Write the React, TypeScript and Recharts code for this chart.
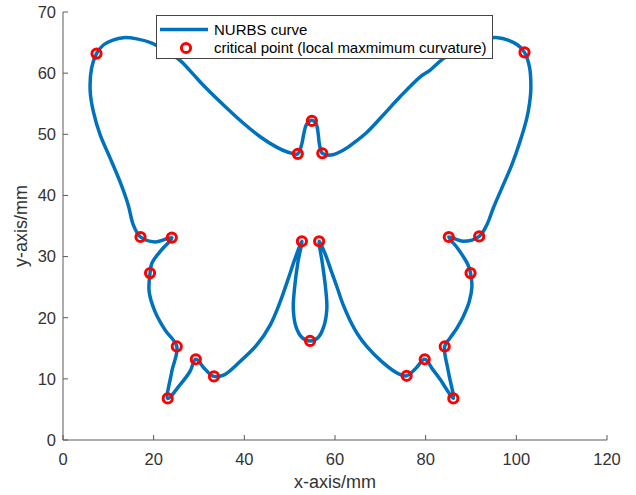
import React from "react"
import { ComposedChart, Line, Scatter, XAxis, YAxis, Legend, Label } from "recharts"

// butterfly outline (mm), traced clockwise from the top-left critical point
const upperLeftWing = [
    [7.4, 63.2], [8.9, 64.6], [11.0, 65.4], [13.3, 65.8], [16.3, 65.6], [19.6, 64.9], [22.6, 63.6],
    [25.8, 62.1], [28.5, 60.0], [31.5, 57.6], [36.1, 54.3], [39.8, 51.8], [43.5, 49.6], [47.1, 47.9],
    [49.5, 47.1], [51.8, 46.8],
]
const head = [
    [51.8, 46.8], [52.6, 48.2], [53.1, 50.0], [53.7, 51.6], [54.9, 52.3], [55.9, 51.6], [56.3, 50.0],
    [56.6, 48.2], [57.2, 46.9],
]
const upperRightWing = [
    [57.2, 46.9], [59.0, 46.6], [61.8, 47.4], [64.5, 48.8], [67.0, 50.3], [70.7, 53.2], [74.3, 56.1],
    [78.8, 59.4], [81.0, 60.5], [83.6, 62.2], [86.7, 63.6], [89.6, 64.9], [92.9, 65.6], [95.9, 65.8],
    [98.2, 65.4], [100.3, 64.6], [101.8, 63.4],
]
const rightEdge = [
    [101.8, 63.4], [102.9, 61.0], [103.2, 57.5], [102.9, 55.0], [102.3, 52.6], [100.8, 48.8], [99.0, 45.0],
    [96.8, 41.2], [94.9, 37.9], [93.5, 35.2], [91.8, 33.3],
]
const lowerRightWing = [
    [91.8, 33.3], [88.3, 32.5], [85.1, 33.2], [86.8, 31.6], [88.3, 30.0], [89.3, 28.7], [89.9, 27.3],
    [90.2, 25.1], [89.6, 22.6], [88.3, 20.2], [86.9, 18.3], [85.4, 16.7], [84.2, 15.3], [85.0, 11.2],
    [86.1, 6.8], [84.6, 8.3], [83.3, 9.8], [81.5, 11.6], [79.8, 13.2], [77.8, 11.7], [75.8, 10.5],
    [73.6, 11.0], [70.2, 12.9], [67.0, 15.3], [65.0, 17.3], [63.3, 19.6], [61.7, 22.3], [60.4, 25.1],
    [59.0, 28.0], [57.8, 30.5], [56.5, 32.5],
]
const tail = [
    [56.5, 32.5], [57.2, 29.0], [57.9, 25.0], [58.2, 21.5], [57.5, 18.5], [56.2, 16.7], [54.5, 16.2],
    [52.8, 16.7], [51.4, 18.5], [50.8, 21.5], [51.1, 25.0], [51.8, 29.0], [52.7, 32.5],
]
const lowerLeftWing = [
    [52.7, 32.5], [51.2, 29.7], [49.7, 26.4], [47.9, 22.6], [45.7, 18.8], [42.7, 15.5], [39.0, 12.8],
    [35.4, 10.6], [33.3, 10.4], [31.3, 11.6], [29.3, 13.2], [28.0, 11.2], [25.8, 9.0], [23.1, 6.8],
    [24.0, 11.2], [25.1, 15.3], [22.5, 18.0], [20.3, 21.0], [19.0, 24.3], [19.2, 27.3], [19.6, 28.9],
    [21.4, 30.8], [24.0, 33.1],
]
const leftEdge = [
    [24.0, 33.1], [20.3, 32.4], [17.1, 33.2], [15.5, 35.2], [14.4, 38.4], [12.6, 42.2], [10.4, 46.1],
    [8.2, 49.9], [6.7, 53.7], [6.0, 57.0], [6.3, 60.8], [7.4, 63.2],
]

// local maximum curvature points
const criticalPoints = [
    [7.4, 63.2], [17.1, 33.2], [24.0, 33.1], [19.2, 27.3], [25.1, 15.3], [23.1, 6.8], [29.3, 13.2],
    [33.3, 10.4], [51.8, 46.8], [54.9, 52.2], [57.2, 46.9], [52.7, 32.5], [56.5, 32.5], [54.5, 16.2],
    [75.8, 10.5], [79.8, 13.2], [86.1, 6.8], [84.2, 15.3], [89.9, 27.3], [85.1, 33.2], [91.8, 33.3],
    [101.8, 63.4],
]

const xTicks = [0, 20, 40, 60, 80, 100, 120]
const yTicks = [0, 10, 20, 30, 40, 50, 60, 70]

const sections = [upperLeftWing, head, upperRightWing, rightEdge, lowerRightWing, tail, lowerLeftWing, leftEdge]
const curveData = sections
    .flatMap((s, i) => (i === 0 ? s : s.slice(1)))
    .map(([x, y]) => ({ x, y }))
const pointData = criticalPoints.map(([x, y]) => ({ x, y }))

const BLUE = "#0072BD"
const RED = "#FF0000"
const AXIS = "#5a5a5a"
const TEXT = "#333333"
const FONT = '"Liberation Sans", Arial, Helvetica, sans-serif'
const TICK_LEN = 5
const X_GAP = 13
const Y_GAP = 7

// centripetal catmull-rom through the traced points, closes when first == last
function smoothPath(context: any) {
    let pts: number[][] = []
    return {
        areaStart() {},
        areaEnd() {},
        lineStart() { pts = [] },
        point(x: number, y: number) { pts.push([x, y]) },
        lineEnd() {
            const n = pts.length
            if (!n) return
            const closed = n > 3 && pts[0][0] === pts[n - 1][0] && pts[0][1] === pts[n - 1][1]
            const m = n - 1
            const get = (i: number) =>
                closed ? pts[((i % m) + m) % m] : pts[Math.max(0, Math.min(n - 1, i))]
            const len = (a: number[], b: number[]) => Math.sqrt(Math.hypot(b[0] - a[0], b[1] - a[1]))
            context.moveTo(pts[0][0], pts[0][1])
            for (let i = 0; i < n - 1; i++) {
                const p0 = get(i - 1), p1 = pts[i], p2 = pts[i + 1], p3 = get(i + 2)
                const d1 = len(p0, p1), d2 = len(p1, p2), d3 = len(p2, p3)
                let c1 = p1, c2 = p2
                if (d1 > 1e-6) {
                    const a = 2 * d1 * d1 + 3 * d1 * d2 + d2 * d2
                    const k = 3 * d1 * (d1 + d2)
                    c1 = [0, 1].map((j) => (p1[j] * a - p0[j] * d2 * d2 + p2[j] * d1 * d1) / k)
                }
                if (d3 > 1e-6) {
                    const b = 2 * d3 * d3 + 3 * d3 * d2 + d2 * d2
                    const k = 3 * d3 * (d3 + d2)
                    c2 = [0, 1].map((j) => (p2[j] * b + p1[j] * d3 * d3 - p3[j] * d2 * d2) / k)
                }
                context.bezierCurveTo(c1[0], c1[1], c2[0], c2[1], p2[0], p2[1])
            }
            if (closed) context.closePath()
        },
    }
}

function BottomTick({ x, y, payload }: any) {
    return (
        <g>
            <line x1={x} x2={x} y1={y - X_GAP} y2={y - X_GAP - TICK_LEN} stroke={AXIS} />
            <text x={x} y={y} dy="0.71em" textAnchor="middle" fill={TEXT} fontSize={16.5} fontFamily={FONT}>
                {payload.value}
            </text>
        </g>
    )
}

function LeftTick({ x, y, payload }: any) {
    return (
        <g>
            <line x1={x + Y_GAP} x2={x + Y_GAP + TICK_LEN} y1={y} y2={y} stroke={AXIS} />
            <text x={x} y={y} dy="0.355em" textAnchor="end" fill={TEXT} fontSize={16.5} fontFamily={FONT}>
                {payload.value}
            </text>
        </g>
    )
}

function TopTick({ x, y }: any) {
    return <line x1={x} x2={x} y1={y} y2={y + TICK_LEN} stroke={AXIS} />
}

function RightTick({ x, y }: any) {
    return <line x1={x} x2={x - TICK_LEN} y1={y} y2={y} stroke={AXIS} />
}

function XTitle({ viewBox }: any) {
    const vb = viewBox || { x: 63, y: 440, width: 544 }
    return (
        <text x={vb.x + vb.width / 2} y={vb.y + 48} textAnchor="middle" fill={TEXT} fontSize={18} fontFamily={FONT}>
            x-axis/mm
        </text>
    )
}

function YTitle({ viewBox }: any) {
    const vb = viewBox || { x: 0, y: 12, height: 428 }
    const cy = vb.y + vb.height / 2
    return (
        <text transform={`translate(27, ${cy}) rotate(-90)`} textAnchor="middle" fill={TEXT} fontSize={18} fontFamily={FONT}>
            y-axis/mm
        </text>
    )
}

function LegendBox({ payload }: any) {
    const items = [...(payload || [])].sort((a: any) => (a.type === "line" ? -1 : 1))
    return (
        <svg width={337} height={44} style={{ display: "block" }}>
            <rect x={0.5} y={0.5} width={336} height={43} fill="#fff" stroke="#444" />
            {items.map((it: any, i: number) => {
                const cy = 14.5 + i * 18.5
                return (
                    <g key={i}>
                        {it.type === "line" ? (
                            <line x1={4} x2={52} y1={cy} y2={cy} stroke={BLUE} strokeWidth={3.5} />
                        ) : (
                            <circle cx={30} cy={cy} r={4.6} fill="none" stroke={RED} strokeWidth={3} />
                        )}
                        <text x={58} y={cy} dy="0.35em" fontSize={15} fontFamily={FONT} fill="#000">
                            {it.value}
                        </text>
                    </g>
                )
            })}
        </svg>
    )
}

export default function App() {
    return (
        <div style={{ position: "absolute", left: 0, top: 0, width: 636, height: 495, background: "#fff" }}>
            <ComposedChart width={636} height={495} margin={{ top: 12, right: 29, bottom: 0, left: 0 }}>
                <XAxis
                    dataKey="x" type="number" domain={[0, 120]} ticks={xTicks} interval={0} allowDataOverflow
                    height={55} tickSize={0} tickMargin={X_GAP} tickLine={false} axisLine={{ stroke: AXIS }}
                    tick={<BottomTick />}
                >
                    <Label content={<XTitle />} />
                </XAxis>
                <XAxis
                    xAxisId="top" orientation="top" dataKey="x" type="number" domain={[0, 120]} ticks={xTicks}
                    interval={0} allowDataOverflow height={0} tickSize={0} tickMargin={0} tickLine={false}
                    axisLine={{ stroke: AXIS }} tick={<TopTick />}
                />
                <YAxis
                    dataKey="y" type="number" domain={[0, 70]} ticks={yTicks} interval={0} allowDataOverflow
                    width={63} tickSize={0} tickMargin={Y_GAP} tickLine={false} axisLine={{ stroke: AXIS }}
                    tick={<LeftTick />}
                >
                    <Label content={<YTitle />} />
                </YAxis>
                <YAxis
                    yAxisId="right" orientation="right" dataKey="y" type="number" domain={[0, 70]} ticks={yTicks}
                    interval={0} allowDataOverflow width={0} tickSize={0} tickMargin={0} tickLine={false}
                    axisLine={{ stroke: AXIS }} tick={<RightTick />}
                />
                <Legend
                    layout="vertical" align="center" verticalAlign="middle"
                    wrapperStyle={{ left: 156, top: 15, width: 337, height: 44 }}
                    content={<LegendBox />}
                />
                <Line
                    data={curveData} dataKey="y" name="NURBS curve" type={smoothPath as any}
                    stroke={BLUE} strokeWidth={3.5} dot={false} activeDot={false} isAnimationActive={false}
                />
                <Scatter
                    data={pointData} dataKey="y" name="critical point (local maxmimum curvature)"
                    isAnimationActive={false}
                    shape={(p: any) => <circle cx={p.cx} cy={p.cy} r={4.6} fill="none" stroke={RED} strokeWidth={3} />}
                />
            </ComposedChart>
        </div>
    )
}
